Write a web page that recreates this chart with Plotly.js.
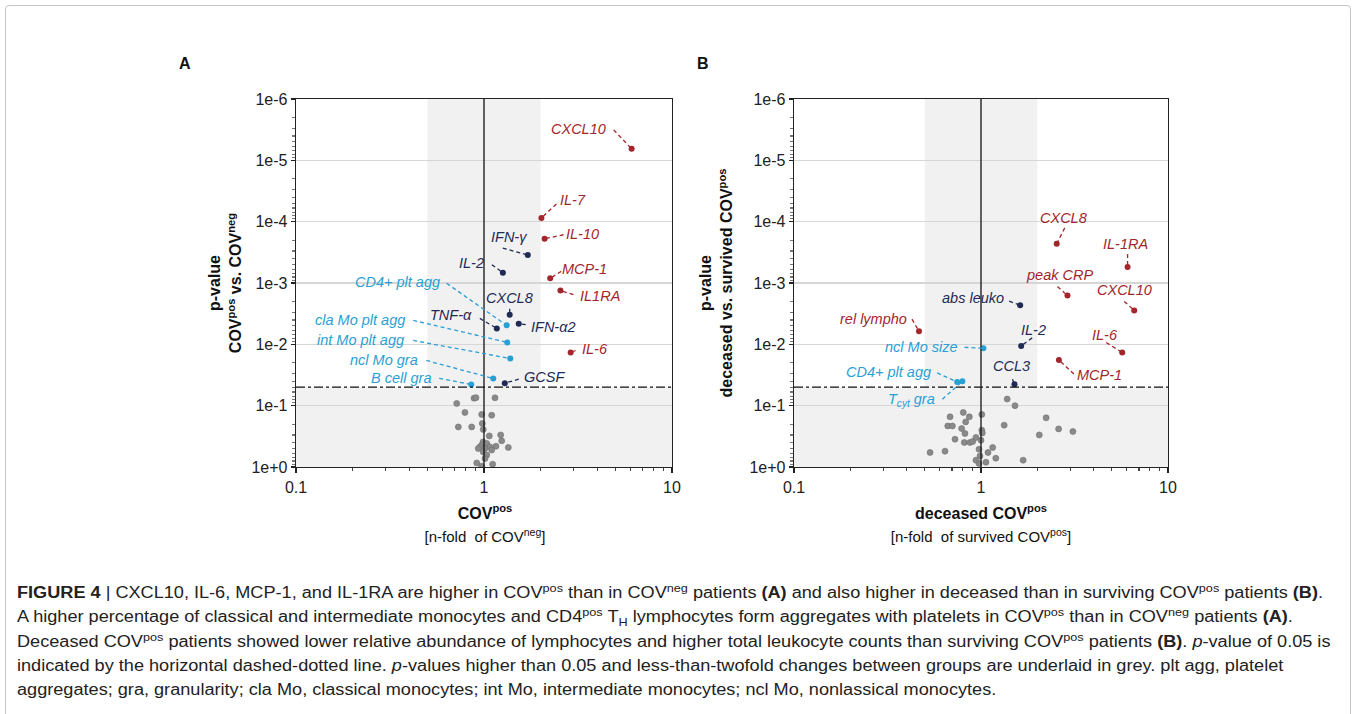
<!DOCTYPE html>
<html><head><meta charset="utf-8">
<script src="https://cdn.plot.ly/plotly-3.0.1.min.js"></script>
<style>
body{margin:0;background:#fff;}
#wrap{position:relative;width:1356px;height:714px;overflow:hidden;background:#fff;font-family:'Liberation Sans',Arial,sans-serif;}
#chart{position:absolute;left:0;top:0;width:1356px;height:714px;}
#frame{position:absolute;left:5px;top:5px;width:1344px;height:740px;border:1px solid #c4c4c4;border-radius:4px;pointer-events:none;}
#caption{position:absolute;left:17px;top:581px;font-size:16px;color:#222;}
#caption div{white-space:nowrap;height:24.3px;line-height:24.3px;font-size:16px;transform-origin:0 50%;}
sup,sub{font-size:70%;line-height:10px;}
.ttl{position:absolute;white-space:nowrap;text-align:center;color:#111;font-size:16px;line-height:21px;transform:translate(-50%,-50%);}
.ttl.rot{transform:translate(-50%,-50%) rotate(-90deg);}
.ttl b{font-weight:bold;}
.plab{position:absolute;white-space:nowrap;font-style:italic;font-size:14.5px;line-height:17px;transform:translate(-50%,-50%);}
</style></head>
<body>
<div id="wrap">
<div id="chart"></div>
<div class="ttl rot" style="left:225px;top:283px;"><b>p-value</b><br><b>COV<sup>pos</sup> vs. COV<sup>neg</sup></b></div>
<div class="ttl rot" style="left:716px;top:283px;"><b>p-value</b><br><b>deceased vs. survived COV<sup>pos</sup></b></div>
<div class="ttl" style="left:485px;top:513px;"><b>COV<sup>pos</sup></b></div>
<div class="ttl" style="left:485px;top:536px;font-size:15px;">[n-fold&nbsp; of COV<sup>neg</sup>]</div>
<div class="ttl" style="left:981px;top:513px;"><b>deceased COV<sup>pos</sup></b></div>
<div class="ttl" style="left:981px;top:536px;font-size:15px;">[n-fold&nbsp; of survived COV<sup>pos</sup>]</div>
<div id="caption"></div>
<div id="frame"></div>
</div>
<script>
// ---------- DATA ----------
// Panel A: COVpos vs COVneg
const aNames = ['CXCL10','IL-7','IL-10','IFN-γ','IL-2','MCP-1','IL1RA','CXCL8','IFN-α2','TNF-α','CD4+ plt agg','cla Mo plt agg','int Mo plt agg','ncl Mo gra','B cell gra','GCSF','IL-6'];
const aFold  = [6.1, 2.02, 2.1, 1.71, 1.26, 2.25, 2.55, 1.37, 1.53, 1.17, 1.32, 1.33, 1.38, 1.12, 0.855, 1.29, 2.89];
const aP     = [6.5e-6, 8.7e-5, 1.9e-4, 3.5e-4, 6.8e-4, 8.4e-4, 1.33e-3, 3.3e-3, 4.6e-3, 5.5e-3, 4.9e-3, 9.3e-3, 0.017, 0.036, 0.045, 0.043, 0.0136];
const aGroup = ['strong','strong','strong','moderate','moderate','strong','strong','moderate','moderate','moderate','cell','cell','cell','cell','cell','moderate','strong'];
const aGrayFold = [0.885,0.906,0.716,1.144,0.792,0.972,1.099,0.730,0.860,0.979,0.991,1.067,1.227,1.242,1.347,1.158,0.988,1.034,0.972,0.952,1.012,1.076,1.099,0.932,0.991,1.034,1.012,0.915,1.112,0.972];
const aGrayP    = [0.0755,0.074,0.092,0.0746,0.129,0.139,0.143,0.222,0.222,0.195,0.244,0.311,0.30,0.375,0.48,0.458,0.39,0.414,0.44,0.47,0.50,0.47,0.53,0.50,0.57,0.64,0.73,0.86,0.90,0.97];

// Panel B: deceased vs survived COVpos
const bNames = ['CXCL8','IL-1RA','peak CRP','CXCL10','abs leuko','rel lympho','IL-2','IL-6','ncl Mo size','MCP-1','CCL3','CD4+ plt agg','T<sub>cyt</sub> gra'];
const bFold  = [2.54, 6.08, 2.9, 6.6, 1.62, 0.466, 1.64, 5.69, 1.03, 2.61, 1.51, 0.746, 0.795];
const bP     = [2.3e-4, 5.5e-4, 1.6e-3, 2.8e-3, 2.3e-3, 6.1e-3, 0.0106, 0.0136, 0.0116, 0.018, 0.0447, 0.041, 0.040];
const bGroup = ['strong','strong','strong','strong','moderate','strong','moderate','strong','cell','strong','moderate','cell','cell'];
const bGrayFold = [1.38,1.52,0.683,0.804,0.866,0.828,1.01,0.664,0.703,0.788,0.821,1.01,1.016,1.33,2.23,2.60,3.10,2.05,0.726,0.814,0.873,0.903,0.94,1.0,0.976,1.155,1.09,0.988,1.20,0.534,0.642,0.94,1.063,1.68,0.976];
const bGrayP    = [0.078,0.10,0.152,0.129,0.152,0.184,0.139,0.214,0.214,0.236,0.284,0.251,0.278,0.208,0.158,0.239,0.264,0.30,0.352,0.398,0.398,0.384,0.33,0.366,0.513,0.481,0.58,0.66,0.718,0.58,0.552,0.774,0.836,0.774,0.877];

const pThreshold = 0.05;
const foldBand = [0.5, 2];
const xTickVals = [0.1, 1, 10];
const xTickText = ['0.1', '1', '10'];
const yTickVals = [1e-6, 1e-5, 1e-4, 1e-3, 1e-2, 1e-1, 1];
const yTickText = ['1e-6', '1e-5', '1e-4', '1e-3', '1e-2', '1e-1', '1e+0'];

const captionLines = [
  '<b>FIGURE 4</b> | CXCL10, IL-6, MCP-1, and IL-1RA are higher in COV<sup>pos</sup> than in COV<sup>neg</sup> patients <b>(A)</b> and also higher in deceased than in surviving COV<sup>pos</sup> patients <b>(B)</b>.',
  'A higher percentage of classical and intermediate monocytes and CD4<sup>pos</sup> T<sub>H</sub> lymphocytes form aggregates with platelets in COV<sup>pos</sup> than in COV<sup>neg</sup> patients <b>(A)</b>.',
  'Deceased COV<sup>pos</sup> patients showed lower relative abundance of lymphocytes and higher total leukocyte counts than surviving COV<sup>pos</sup> patients <b>(B)</b>. <i>p</i>-value of 0.05 is',
  'indicated by the horizontal dashed-dotted line. <i>p</i>-values higher than 0.05 and less-than-twofold changes between groups are underlaid in grey. plt agg, platelet',
  'aggregates; gra, granularity; cla Mo, classical monocytes; int Mo, intermediate monocytes; ncl Mo, nonlassical monocytes.'
];

// ---------- LABEL PLACEMENT (pixel offsets: label centre dx,dy ; leader start dx,dy) ----------
const labelPosA = {
  'CXCL10':[-53,20,-18,19], 'IL-7':[32,18,15,14], 'IL-10':[38,5,19,4], 'IFN-γ':[-19,18,-25,7],
  'IL-2':[-31,10,-11,8], 'MCP-1':[34,9,11,7], 'IL1RA':[40,-5,13,-4], 'CXCL8':[0,17,0,6],
  'IFN-α2':[35,-3,7,-1], 'TNF-α':[-46,13,-17,10], 'CD4+ plt agg':[-109,43,-60,42],
  'cla Mo plt agg':[-147,22,-94,22], 'int Mo plt agg':[-150,18,-97,18], 'ncl Mo gra':[-109,18,-67,18],
  'B cell gra':[-70,6,-32,6], 'GCSF':[40,6,14,4], 'IL-6':[24,4,5,2]
};
const labelPosB = {
  'CXCL8':[7,26,8,16], 'IL-1RA':[-2,23,0,13], 'peak CRP':[-8,21,-10,9], 'CXCL10':[-10,20,-10,9],
  'abs leuko':[-47,7,-11,4], 'rel lympho':[-45,12,-7,12], 'IL-2':[12,16,11,8], 'IL-6':[-17,18,-16,10],
  'ncl Mo size':[-62,1,-19,1], 'MCP-1':[41,-15,15,-14], 'CCL3':[-3,18,-2,5],
  'CD4+ plt agg':[-69,10,-20,9], 'T<sub>cyt</sub> gra':[-51,-19,-20,-18]
};

const colors = {strong:'#a3262c', moderate:'#1f2a55', cell:'#2a9fd4', gray:'#8a8a8a'};
const FONT = 'Liberation Sans, Arial, Helvetica, sans-serif';
const L = Math.log10;

const W = 1356, H = 714;
const px = v => v / W, py = v => (H - v) / H;
const plotTop = 99, plotBottom = 467;
const panelX = {'': [296, 672], '2': [794, 1168]};

function minorVals(lo, hi) {
  const v = [];
  for (let e = lo; e < hi; e++) for (let m = 2; m <= 9; m++) v.push(m * Math.pow(10, e));
  return v;
}

const traces = [];
const shapes = [];
const annotations = [];
const htmlLabels = [];   // labels with sub/superscripts, drawn as HTML over the plot

function addPanel(sfx, names, fold, p, group, grayFold, grayP, pos) {
  const xa = 'x' + sfx, ya = 'y' + sfx;
  const pxPerDecX = (panelX[sfx][1] - panelX[sfx][0]) / 2;
  const pxPerDecY = (plotBottom - plotTop) / 6;
  shapes.push({type:'rect', xref:xa, yref:ya + ' domain', x0:foldBand[0], x1:foldBand[1], y0:0, y1:1,
    fillcolor:'#f1f1f1', line:{width:0}, layer:'below'});
  shapes.push({type:'rect', xref:xa + ' domain', yref:ya, x0:0, x1:1, y0:pThreshold, y1:1,
    fillcolor:'#f1f1f1', line:{width:0}, layer:'below'});
  shapes.push({type:'line', xref:xa, yref:ya + ' domain', x0:1, x1:1, y0:0, y1:1, line:{color:'#111', width:1.3}, layer:'above'});
  shapes.push({type:'line', xref:xa + ' domain', yref:ya, x0:0, x1:1, y0:pThreshold, y1:pThreshold,
    line:{color:'#111', width:1.3, dash:'dashdot'}, layer:'above'});
  traces.push({type:'scatter', mode:'markers', x:grayFold, y:grayP, xaxis:xa, yaxis:ya,
    marker:{size:6, color:colors.gray, line:{color:'#6f6f6f', width:0.6}}, hoverinfo:'skip', showlegend:false});
  names.forEach((n, i) => {
    const c = colors[group[i]], o = pos[n];
    if (/<su[bp]>/.test(n)) {
      htmlLabels.push({axis:sfx, x:fold[i], y:p[i], dx:o[0], dy:o[1], text:n, color:c});
    } else {
      annotations.push({xref:xa, yref:ya, x:L(fold[i]), y:L(p[i]), text:'<i>' + n + '</i>', showarrow:false,
        xshift:o[0], yshift:o[1], xanchor:'center', yanchor:'middle', font:{family:FONT, size:14.5, color:c}});
    }
    const sx = fold[i] * Math.pow(10, o[2] / pxPerDecX);
    const sy = p[i] * Math.pow(10, -o[3] / pxPerDecY);
    shapes.push({type:'line', xref:xa, yref:ya, x0:sx, y0:sy, x1:fold[i], y1:p[i],
      line:{color:c, width:1.3, dash:'4px,3px'}, layer:'above'});
  });
  ['strong','moderate','cell'].forEach(g => {
    const xs = [], ys = [];
    group.forEach((gg, i) => { if (gg === g) { xs.push(fold[i]); ys.push(p[i]); } });
    traces.push({type:'scatter', mode:'markers', x:xs, y:ys, xaxis:xa, yaxis:ya,
      marker:{size:6, color:colors[g]}, hoverinfo:'skip', showlegend:false});
  });
}

addPanel('', aNames, aFold, aP, aGroup, aGrayFold, aGrayP, labelPosA);
addPanel('2', bNames, bFold, bP, bGroup, bGrayFold, bGrayP, labelPosB);

function xAxis(domain, anchor) {
  return {domain:domain, anchor:anchor, type:'log', range:[-1, 1], tickvals:xTickVals, ticktext:xTickText,
    ticks:'outside', ticklen:5, tickwidth:1.2, tickcolor:'#222', showline:true, linecolor:'#222', linewidth:1.3,
    mirror:true, showgrid:false, zeroline:false, tickfont:{family:FONT, size:16, color:'#222'},
    minor:{tickvals:minorVals(-1, 1), ticks:'outside', ticklen:3, tickcolor:'#444', showgrid:false}};
}
function yAxis(domain, anchor) {
  return {domain:domain, anchor:anchor, type:'log', range:[0, -6], tickvals:yTickVals, ticktext:yTickText,
    ticks:'outside', ticklen:4, tickwidth:1.2, tickcolor:'#222', showline:true, linecolor:'#222', linewidth:1.3,
    mirror:true, showgrid:true, gridcolor:'#d6d6d6', gridwidth:1.2, zeroline:false,
    tickfont:{family:FONT, size:16, color:'#222'},
    minor:{tickvals:minorVals(-6, 0), ticks:'outside', ticklen:3, tickcolor:'#777', showgrid:false}};
}

const txt = (x, y, text, size) => ({xref:'paper', yref:'paper', x:px(x), y:py(y), text:text,
  showarrow:false, xanchor:'center', yanchor:'middle', font:{family:FONT, size:size, color:'#111'}});
annotations.push(txt(185, 63, '<b>A</b>', 16));
annotations.push(txt(703, 63, '<b>B</b>', 16));

const layout = {
  width:W, height:H, margin:{l:0, r:0, t:0, b:0}, paper_bgcolor:'rgba(0,0,0,0)', plot_bgcolor:'#fff',
  showlegend:false, font:{family:FONT},
  xaxis: xAxis([panelX[''][0]/W, panelX[''][1]/W], 'y'),
  yaxis: yAxis([py(plotBottom), py(plotTop)], 'x'),
  xaxis2: xAxis([panelX['2'][0]/W, panelX['2'][1]/W], 'y2'),
  yaxis2: yAxis([py(plotBottom), py(plotTop)], 'x2'),
  shapes:shapes, annotations:annotations
};

// caption
const cap = document.getElementById('caption');
captionLines.forEach(t => { const d = document.createElement('div'); d.innerHTML = t; cap.appendChild(d); });

Plotly.newPlot('chart', traces, layout, {staticPlot:true, displayModeBar:false}).then(gd => {
  // labels with subscripts: positioned through Plotly's own axis scales
  const wrap = document.getElementById('wrap');
  htmlLabels.forEach(lb => {
    const xa = gd._fullLayout['xaxis' + lb.axis], ya = gd._fullLayout['yaxis' + lb.axis];
    const X = xa._offset + xa.c2p(lb.x) + lb.dx;
    const Y = ya._offset + ya.c2p(lb.y) - lb.dy;
    const d = document.createElement('div');
    d.className = 'plab';
    d.style.left = X + 'px'; d.style.top = Y + 'px'; d.style.color = lb.color;
    d.innerHTML = lb.text;
    wrap.insertBefore(d, document.getElementById('caption'));
  });
  // fit caption lines to the reference width (condensed face)
  const lines = document.querySelectorAll('#caption div');
  const s = 1313 / lines[0].scrollWidth;
  lines.forEach(d => d.style.transform = 'scaleX(' + s + ')');
});
</script>
</body></html>
